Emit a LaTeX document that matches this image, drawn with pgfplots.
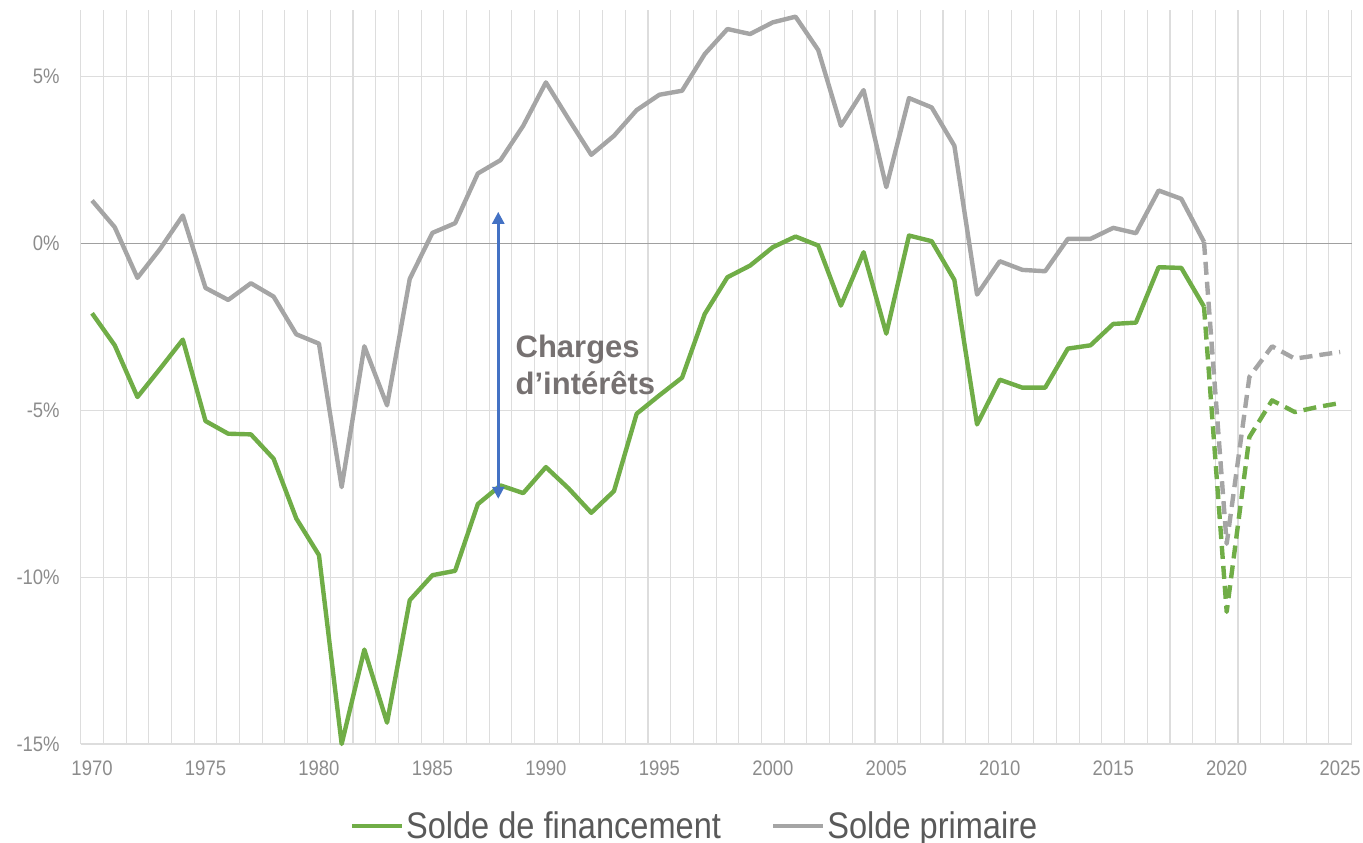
\documentclass[border=0pt]{standalone}
\usepackage{fontspec}
\setmainfont{Liberation Sans}[FakeStretch=0.88]
\newfontfamily\annotfont{Liberation Sans}
\usepackage{pgfplots}
\usepackage{pgfplotstable}
\pgfplotsset{compat=1.18}
\usetikzlibrary{arrows.meta, calc}

\definecolor{cgreen}{HTML}{70AD47}
\definecolor{cgray}{HTML}{A5A5A5}
\definecolor{cblue}{HTML}{4472C4}
\definecolor{gridgray}{HTML}{DDDDDD}
\definecolor{zerogray}{HTML}{A0A0A0}
\definecolor{ticktext}{HTML}{8C8C8C}
\definecolor{legtext}{HTML}{595959}
\definecolor{annot}{HTML}{767171}

% solde de financement (% du PIB)
\pgfplotstableread{
year val
1970 -2.09
1971 -3.05
1972 -4.60
1973 -3.75
1974 -2.88
1975 -5.32
1976 -5.70
1977 -5.72
1978 -6.45
1979 -8.24
1980 -9.34
1981 -15.00
1982 -12.17
1983 -14.36
1984 -10.69
1985 -9.94
1986 -9.81
1987 -7.81
1988 -7.25
1989 -7.48
1990 -6.70
1991 -7.34
1992 -8.07
1993 -7.42
1994 -5.10
1995 -4.55
1996 -4.02
1997 -2.11
1998 -1.01
1999 -0.66
2000 -0.11
2001 0.21
2002 -0.06
2003 -1.86
2004 -0.26
2005 -2.70
2006 0.24
2007 0.07
2008 -1.09
2009 -5.42
2010 -4.08
2011 -4.32
2012 -4.32
2013 -3.15
2014 -3.05
2015 -2.41
2016 -2.37
2017 -0.71
2018 -0.73
2019 -1.89
}\finTable

\pgfplotstableread{
year val
2019 -1.89
2020 -11.04
2021 -5.80
2022 -4.70
2023 -5.05
2024 -4.90
2025 -4.78
}\finProj

% solde primaire
\pgfplotstableread{
year val
1970 1.29
1971 0.49
1972 -1.03
1973 -0.16
1974 0.84
1975 -1.33
1976 -1.69
1977 -1.19
1978 -1.59
1979 -2.72
1980 -3.00
1981 -7.30
1982 -3.08
1983 -4.85
1984 -1.06
1985 0.32
1986 0.61
1987 2.10
1988 2.50
1989 3.53
1990 4.83
1991 3.73
1992 2.66
1993 3.23
1994 4.00
1995 4.46
1996 4.58
1997 5.68
1998 6.43
1999 6.28
2000 6.63
2001 6.80
2002 5.80
2003 3.53
2004 4.60
2005 1.69
2006 4.36
2007 4.08
2008 2.93
2009 -1.53
2010 -0.53
2011 -0.79
2012 -0.83
2013 0.14
2014 0.14
2015 0.47
2016 0.31
2017 1.59
2018 1.34
2019 0.05
}\primTable

\pgfplotstableread{
year val
2019 0.05
2020 -9.00
2021 -4.00
2022 -3.08
2023 -3.45
2024 -3.35
2025 -3.25
}\primProj

\begin{document}
\begin{tikzpicture}
\begin{axis}[
    name=ax,
    scale only axis,
    width=635.4bp, height=367bp,
    xmin=1969.5, xmax=2025.5,
    ymin=-15, ymax=7,
    xtick={1970,1975,...,2025},
    xticklabels={1970,1975,1980,1985,1990,1995,2000,2005,2010,2015,2020,2025},
    minor xtick={1969.5,1970.5,...,2025.5},
    xminorgrids=true,
    ytick={-15,-10,-5,5},
    yticklabels={-15\%,-10\%,-5\%,5\%},
    extra y ticks={0},
    extra y tick labels={0\%},
    extra y tick style={grid style={draw=zerogray, line width=0.7bp}},
    ymajorgrids=true,
    grid style={draw=gridgray, line width=0.55bp},
    minor grid style={draw=gridgray, line width=0.55bp},
    axis line style={draw=none},
    major tick length=0pt, minor tick length=0pt,
    tick style={draw=none},
    tick label style={font=\fontsize{10.5bp}{12bp}\selectfont, text=ticktext},
    xticklabel style={yshift=-5bp},
    yticklabel style={xshift=-7bp},
    clip=false,
    legend columns=2,
    legend cell align=left,
    legend style={at={(0.483,-0.112)}, anchor=center, draw=none, fill=none,
        font=\fontsize{18.5bp}{20bp}\selectfont, text=legtext,
        nodes={inner xsep=1bp},
        /tikz/every even column/.append style={column sep=24bp}},
    legend image code/.code={\draw[#1, line width=2.2bp] (0bp,0bp) -- (25bp,0bp);},
]
\addplot[cgreen, line width=2.2bp, line join=round] table[x=year, y=val] {\finTable};
\addlegendentry{Solde de financement}
\addplot[cgray, line width=2.2bp, line join=round] table[x=year, y=val] {\primTable};
\addlegendentry{Solde primaire}
\addplot[cgray, line width=2.2bp, line join=round, dash pattern=on 6.5bp off 3.5bp, forget plot] table[x=year, y=val] {\primProj};
\addplot[cgreen, line width=2.2bp, line join=round, dash pattern=on 6.5bp off 3.5bp, forget plot] table[x=year, y=val] {\finProj};

\draw[cblue, line width=1.3bp, {Triangle[length=6bp,width=6bp]}-{Triangle[length=6bp,width=6bp]}]
    (axis cs:1987.9,0.95) -- (axis cs:1987.9,-7.65);
\node[anchor=north west, inner sep=0pt, align=left, text=annot,
      font=\annotfont\bfseries\fontsize{15.5bp}{18.5bp}\selectfont]
    at (axis cs:1988.65,-2.72) {Charges\\d’intérêts};
\end{axis}
\pgfresetboundingbox
\path[use as bounding box] ($(ax.south west)+(-40.35bp,-49.5bp)$) rectangle ($(ax.north east)+(5.75bp,5bp)$);
\end{tikzpicture}
\end{document}
